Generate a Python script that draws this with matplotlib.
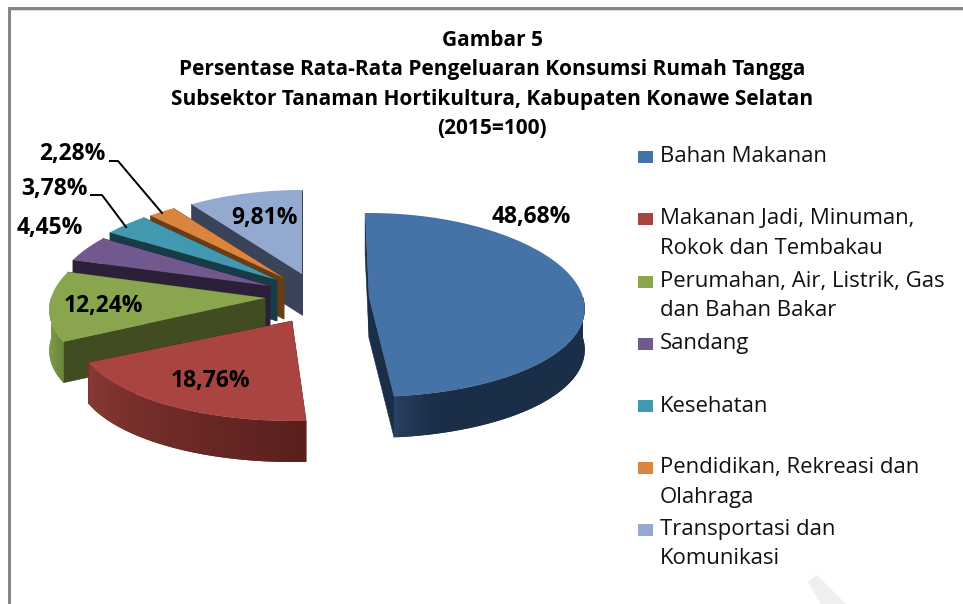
import numpy as np
import matplotlib
matplotlib.use('Agg')
import matplotlib.pyplot as plt
from matplotlib.patches import Polygon, Rectangle

plt.rcParams['font.family'] = ['Open Sans', 'DejaVu Sans']

# data
categories = ['Bahan Makanan',
              'Makanan Jadi, Minuman,\nRokok dan Tembakau',
              'Perumahan, Air, Listrik, Gas\ndan Bahan Bakar',
              'Sandang',
              'Kesehatan',
              'Pendidikan, Rekreasi dan\nOlahraga',
              'Transportasi dan\nKomunikasi']
shares = [48.68, 18.76, 12.24, 4.45, 3.78, 2.28, 9.81]
title_lines = ['Gambar 5',
               'Persentase Rata-Rata Pengeluaran Konsumsi Rumah Tangga',
               'Subsektor Tanaman Hortikultura, Kabupaten Konawe Selatan',
               '(2015=100)']

# colours: top, cut face, outer side (left end, right end)
top_cols = ['#4572A7', '#A94440', '#89A54E', '#71588F', '#4198AF', '#DB843D', '#93A9CF']
face_cols = ['#1B2E47', '#5A201E', '#414D20', '#2C2038', '#173C48', '#6A3D14', '#3A4357']
side_cols = [('#2A4468', '#1B2E47'), ('#8C3A36', '#5A201E'), ('#86A24C', '#6C863D'),
             ('#2C2038', '#2C2038'), ('#173C48', '#173C48'), ('#6A3D14', '#6A3D14'),
             ('#3A4357', '#3A4357')]

# exploded wedge tips in pixels, plus a small twist (degrees) for the perspective lean
tips = [(369, 297), (292, 321), (265, 298), (270, 286), (277, 280), (284, 278), (302, 274)]
twist = [-1.2, 1.4, 0, 0, 0, 0, 0]
label_pos = [(531, 217), (211, 381), (103, 306), (50, 228), (54, 189), (72, 154), (264, 218)]
legend_y = [157, 219, 282, 344, 406, 468, 530]
depth = 41


def rim(tip, theta):
    # perspective ellipse, theta clockwise from 12 o'clock
    a = 214 * (1 - 0.13 * np.cos(theta))
    b = 92 - 8 * np.cos(theta)
    return tip[0] + a * np.sin(theta), tip[1] - b * np.cos(theta)


fig = plt.figure(figsize=(9.63, 6.04), dpi=100)
ax = fig.add_axes([0, 0, 1, 1])

# chart frame and the scanned watermark
ax.add_patch(Rectangle((8, 7), 955, 2.5, color='#868686', lw=0))
ax.add_patch(Rectangle((8, 9.5), 955, 1, color='#DDDDDD', lw=0))
ax.add_patch(Rectangle((8, 7), 3, 597, color='#868686', lw=0))
ax.add_patch(Polygon([(808, 582), (817, 575), (846, 604), (821, 604), (808, 582)], color='#EFEFEF', lw=0))

edges = np.radians(np.concatenate([[0], np.cumsum(shares)]) * 3.6)

# back wedges first, red last because it overlaps green
zorder = 2
for i in [6, 5, 4, 3, 2, 0, 1]:
    t0, t1 = edges[i] + np.radians(twist[i]), edges[i + 1] + np.radians(twist[i])
    tip = tips[i]
    for t in (t0, t1):
        x, y = rim(tip, t)
        ax.add_patch(Polygon([tip, (x, y), (x, y + depth), (tip[0], tip[1] + depth)],
                             fc=face_cols[i], ec=face_cols[i], lw=0.4, zorder=zorder))
    # outer side, only the part that faces the viewer, shaded left to right
    lo, hi = max(t0, np.pi / 2), min(t1, 3 * np.pi / 2)
    if hi > lo:
        ts = np.linspace(lo, hi, 80)
        upper = [rim(tip, t) for t in ts]
        lower = [(x, y + depth) for x, y in upper[::-1]]
        side = Polygon(upper + lower, fc=side_cols[i][1], ec='none', zorder=zorder)
        ax.add_patch(side)
        xs = [p[0] for p in upper]
        ys = [p[1] for p in upper]
        c0 = np.array(matplotlib.colors.to_rgb(side_cols[i][0]))
        c1 = np.array(matplotlib.colors.to_rgb(side_cols[i][1]))
        ramp = np.linspace(0, 1, 200) ** 0.6
        if i == 0:
            ramp = np.clip(ramp * 2.5, 0, 1)
        shade = c0[None, None, :] + (c1 - c0)[None, None, :] * ramp[None, :, None]
        im = ax.imshow(shade, extent=(min(xs), max(xs), max(ys) + depth, min(ys)),
                       aspect='auto', zorder=zorder)
        im.set_clip_path(side)
    ts = np.linspace(t0, t1, 80)
    pts = [tip] + [rim(tip, t) for t in ts]
    ax.add_patch(Polygon(pts, fc=top_cols[i], ec='none', zorder=zorder))
    zorder += 1

# leader lines for the two small slices
ax.plot([110, 118, 162], [161, 161, 213], color='black', lw=1.4, zorder=20)
ax.plot([91, 102, 126], [195, 195, 227], color='black', lw=1.4, zorder=20)

for v, (x, y) in zip(shares, label_pos):
    ax.text(x, y, ('%.2f%%' % v).replace('.', ','), ha='center', va='center',
            fontsize=16.5, fontweight='bold', color='black', zorder=21)

for line, y in zip(title_lines, [41, 70, 99, 128]):
    ax.text(492, y, line, ha='center', va='center', fontsize=15, fontweight='bold', color='black')

for name, col, y in zip(categories, top_cols, legend_y):
    ax.add_patch(Rectangle((638, y - 6), 15, 12, color=col, lw=0))
    for k, part in enumerate(name.split('\n')):
        ax.text(660, y + 29 * k, part, ha='left', va='center', fontsize=15.9, color='#111111')

ax.set_xlim(0, 963)
ax.set_ylim(604, 0)
ax.axis('off')

fig.savefig('out.png', dpi=100)
